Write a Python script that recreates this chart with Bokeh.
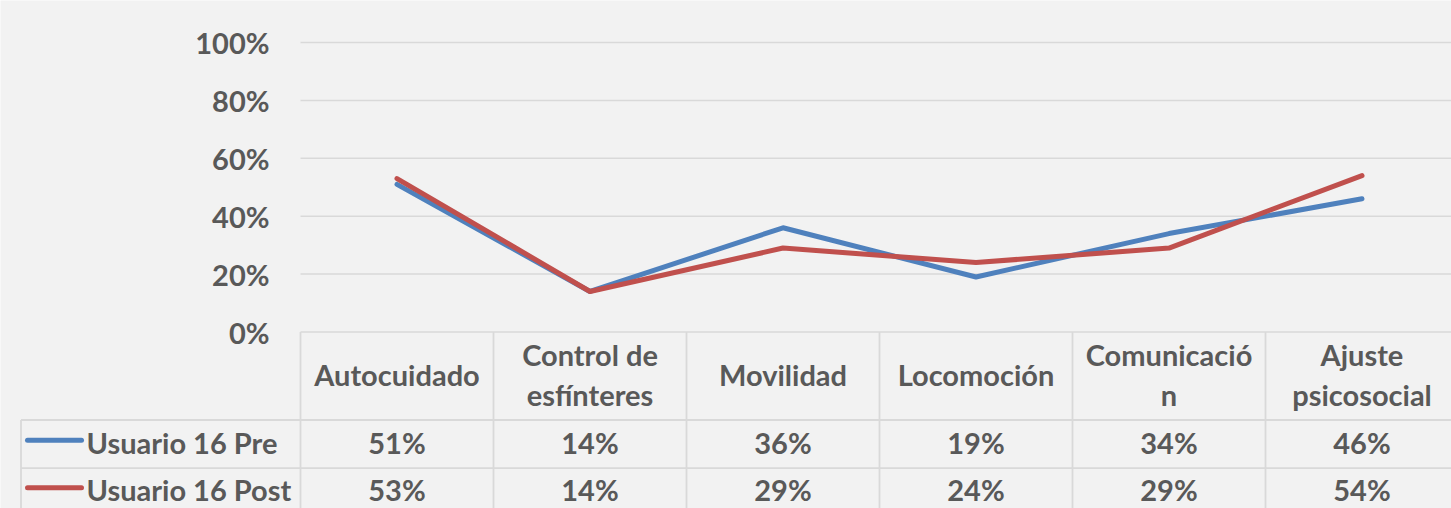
from bokeh.plotting import figure
from bokeh.models import Range1d, LinearAxis, FixedTicker, NumeralTickFormatter
from bokeh.core.properties import value
from bokeh.embed import file_html
from bokeh.resources import INLINE

# ---- data ----
categories = ["Autocuidado", "Control de\nesfínteres", "Movilidad", "Locomoción",
              "Comunicació\nn", "Ajuste\npsicosocial"]
series_names = ["Usuario 16 Pre", "Usuario 16 Post"]
pre_values = [0.51, 0.14, 0.36, 0.19, 0.34, 0.46]
post_values = [0.53, 0.14, 0.29, 0.24, 0.29, 0.54]
y_ticks = [0.0, 0.2, 0.4, 0.6, 0.8, 1.0]

# ---- style / layout ----
BG = "#f2f2f2"
GRID = "#d9d9d9"
TXT = "#595959"
COLORS = ["#4f81bd", "#c0504d"]
FONT = value("Lato")
FS = "29px"

# pixel -> data helpers (layout only)
def X(px):
    return (px - 300.0) / 193.0

def Y(py):
    return (331.5 - py) / 289.5

W, H = 1451, 508
p = figure(width=W, height=H, output_backend="svg", toolbar_location=None,
           x_range=Range1d(X(0), X(W)), y_range=Range1d(Y(H), Y(0)),
           x_axis_type=None, y_axis_type=None,
           min_border_left=0, min_border_right=0, min_border_top=0, min_border_bottom=0)
p.background_fill_color = BG
p.border_fill_color = BG
p.outline_line_color = None
p.xgrid.visible = False
p.ygrid.visible = False

yaxis = LinearAxis(ticker=FixedTicker(ticks=y_ticks),
                   formatter=NumeralTickFormatter(format="0%"),
                   fixed_location=0)
yaxis.axis_line_color = None
yaxis.major_tick_line_color = None
yaxis.minor_tick_line_color = None
yaxis.major_tick_in = 0
yaxis.major_tick_out = 0
yaxis.major_label_standoff = 31
yaxis.major_label_text_font = "Lato"
yaxis.major_label_text_font_style = "bold"
yaxis.major_label_text_font_size = FS
yaxis.major_label_text_color = TXT
p.add_layout(yaxis, "left")

n = len(categories)
right = X(1480)
bottom = Y(540)
row1_top = Y(419.5)
row2_top = Y(467.7)
left_col = X(20.5)

# gridlines
p.segment(x0=[0] * len(y_ticks), x1=[right] * len(y_ticks), y0=y_ticks, y1=y_ticks,
          line_color=GRID, line_width=1.5)
# table lines
p.segment(x0=list(range(n + 1)), x1=list(range(n + 1)), y0=[0] * (n + 1), y1=[bottom] * (n + 1),
          line_color=GRID, line_width=1.8)
p.segment(x0=[left_col, left_col, left_col], x1=[left_col, right, right],
          y0=[row1_top, row1_top, row2_top], y1=[bottom, row1_top, row2_top],
          line_color=GRID, line_width=1.8)

xc = [i + 0.5 for i in range(n)]
# lines
for vals, c in zip([pre_values, post_values], COLORS):
    p.line(xc, vals, line_color=c, line_width=5, line_join="round", line_cap="round")

# header row
p.text(x=xc, y=[Y(374)] * n, text=categories, text_align="center", text_baseline="middle",
       text_font=FONT, text_font_style="bold", text_font_size=FS, text_color=TXT,
       text_line_height=1.13)

# value rows
row_centers = [Y(441.5), Y(489)]
for vals, name, c, yc in zip([pre_values, post_values], series_names, COLORS, row_centers):
    p.text(x=xc, y=[yc] * n, text=[f"{round(v * 100)}%" for v in vals],
           text_align="center", text_baseline="middle",
           text_font=FONT, text_font_style="bold", text_font_size=FS, text_color=TXT)
    p.segment(x0=[X(27)], x1=[X(81)], y0=[yc + 0.006], y1=[yc + 0.006], line_color=c,
              line_width=5, line_cap="round")
    p.text(x=[X(86)], y=[yc], text=[name], text_align="left", text_baseline="middle",
           text_font=FONT, text_font_style="bold", text_font_size=FS, text_color=TXT)

open("out.html", "w").write(file_html(p, INLINE))
